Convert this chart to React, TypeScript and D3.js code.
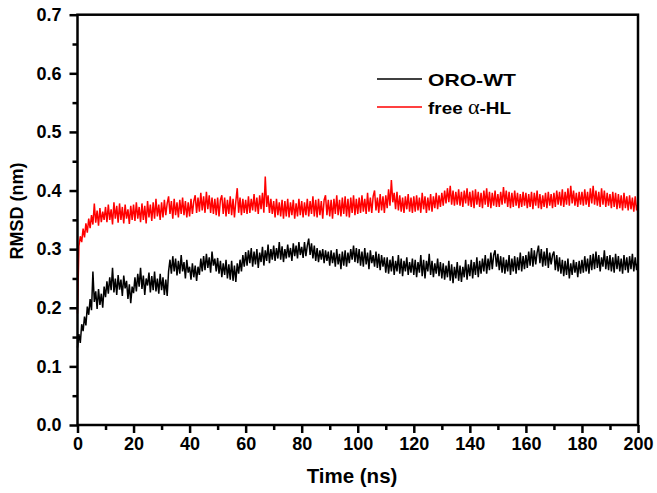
import * as d3 from "d3";
import React from "react";
import { useRef, useEffect } from "react";

// RMSD (nm) sampled every 0.5 ns from 0 to 200 ns
const step = 0.5;

const oroWT = [
  0.132, 0.155, 0.140, 0.172, 0.160, 0.185, 0.170, 0.202, 0.188, 0.215, 0.196, 0.262, 0.210, 0.228, 0.198, 0.232, 0.205, 0.224, 0.200, 0.236,
  0.218, 0.245, 0.224, 0.252, 0.230, 0.268, 0.226, 0.250, 0.222, 0.256, 0.231, 0.248, 0.220, 0.255, 0.233, 0.246, 0.215, 0.240, 0.208, 0.236,
  0.225, 0.252, 0.228, 0.258, 0.236, 0.268, 0.232, 0.255, 0.222, 0.250, 0.238, 0.260, 0.226, 0.254, 0.230, 0.262, 0.228, 0.250, 0.224, 0.258,
  0.230, 0.252, 0.222, 0.248, 0.220, 0.262, 0.282, 0.258, 0.288, 0.262, 0.284, 0.255, 0.280, 0.258, 0.290, 0.262, 0.278, 0.250, 0.282, 0.260,
  0.270, 0.248, 0.276, 0.252, 0.272, 0.246, 0.270, 0.256, 0.284, 0.262, 0.288, 0.264, 0.292, 0.268, 0.286, 0.260, 0.296, 0.272, 0.284, 0.262,
  0.285, 0.258, 0.280, 0.252, 0.276, 0.256, 0.282, 0.250, 0.274, 0.248, 0.280, 0.246, 0.272, 0.244, 0.276, 0.258, 0.282, 0.262, 0.290, 0.270,
  0.295, 0.272, 0.298, 0.276, 0.302, 0.270, 0.296, 0.274, 0.300, 0.268, 0.294, 0.278, 0.304, 0.272, 0.298, 0.280, 0.308, 0.276, 0.300, 0.282,
  0.306, 0.280, 0.302, 0.284, 0.312, 0.282, 0.305, 0.278, 0.300, 0.284, 0.308, 0.286, 0.302, 0.280, 0.310, 0.288, 0.306, 0.284, 0.312, 0.290,
  0.304, 0.285, 0.312, 0.288, 0.306, 0.318, 0.290, 0.310, 0.284, 0.306, 0.280, 0.302, 0.278, 0.298, 0.282, 0.300, 0.276, 0.298, 0.280, 0.296,
  0.272, 0.298, 0.276, 0.294, 0.270, 0.300, 0.274, 0.292, 0.266, 0.296, 0.272, 0.298, 0.270, 0.294, 0.276, 0.300, 0.282, 0.306, 0.278, 0.302,
  0.276, 0.300, 0.272, 0.296, 0.270, 0.302, 0.274, 0.294, 0.266, 0.298, 0.276, 0.290, 0.270, 0.296, 0.268, 0.292, 0.264, 0.290, 0.270, 0.286,
  0.260, 0.286, 0.258, 0.282, 0.262, 0.288, 0.256, 0.280, 0.262, 0.290, 0.258, 0.284, 0.254, 0.280, 0.262, 0.286, 0.256, 0.278, 0.260, 0.284,
  0.256, 0.282, 0.252, 0.278, 0.260, 0.290, 0.254, 0.282, 0.250, 0.280, 0.262, 0.292, 0.256, 0.280, 0.252, 0.276, 0.258, 0.284, 0.254, 0.278,
  0.250, 0.276, 0.248, 0.272, 0.252, 0.280, 0.246, 0.274, 0.242, 0.270, 0.250, 0.278, 0.246, 0.272, 0.244, 0.270, 0.252, 0.282, 0.248, 0.274,
  0.254, 0.282, 0.250, 0.278, 0.256, 0.286, 0.252, 0.280, 0.258, 0.284, 0.262, 0.290, 0.258, 0.284, 0.264, 0.294, 0.266, 0.290, 0.298, 0.270,
  0.292, 0.264, 0.288, 0.260, 0.286, 0.258, 0.282, 0.262, 0.290, 0.256, 0.284, 0.262, 0.288, 0.258, 0.286, 0.264, 0.294, 0.262, 0.288, 0.266,
  0.290, 0.268, 0.296, 0.272, 0.302, 0.270, 0.298, 0.274, 0.294, 0.306, 0.276, 0.300, 0.270, 0.296, 0.272, 0.302, 0.268, 0.294, 0.274, 0.290,
  0.296, 0.264, 0.290, 0.262, 0.286, 0.258, 0.282, 0.254, 0.280, 0.256, 0.284, 0.250, 0.276, 0.256, 0.282, 0.260, 0.278, 0.252, 0.280, 0.258,
  0.282, 0.260, 0.288, 0.262, 0.284, 0.258, 0.290, 0.264, 0.292, 0.266, 0.296, 0.268, 0.290, 0.262, 0.286, 0.270, 0.298, 0.266, 0.288, 0.264,
  0.290, 0.262, 0.286, 0.260, 0.292, 0.266, 0.288, 0.262, 0.284, 0.258, 0.290, 0.264, 0.286, 0.260, 0.288, 0.266, 0.292, 0.262, 0.286, 0.264,
  0.280,
];

const freeHL = [
  0.190, 0.305, 0.322, 0.312, 0.335, 0.320, 0.344, 0.328, 0.352, 0.336, 0.358, 0.342, 0.378, 0.345, 0.366, 0.340, 0.370, 0.346, 0.364, 0.350,
  0.372, 0.346, 0.376, 0.350, 0.368, 0.342, 0.380, 0.352, 0.374, 0.345, 0.378, 0.350, 0.372, 0.344, 0.376, 0.352, 0.368, 0.343, 0.374, 0.350,
  0.376, 0.348, 0.380, 0.352, 0.372, 0.346, 0.378, 0.350, 0.374, 0.344, 0.382, 0.354, 0.376, 0.348, 0.380, 0.352, 0.386, 0.356, 0.376, 0.350,
  0.380, 0.354, 0.384, 0.358, 0.378, 0.390, 0.360, 0.382, 0.352, 0.386, 0.358, 0.380, 0.354, 0.384, 0.360, 0.388, 0.358, 0.382, 0.354, 0.380,
  0.356, 0.386, 0.360, 0.382, 0.392, 0.362, 0.388, 0.364, 0.396, 0.366, 0.390, 0.362, 0.398, 0.368, 0.392, 0.362, 0.388, 0.360, 0.386, 0.358,
  0.388, 0.356, 0.384, 0.392, 0.360, 0.388, 0.356, 0.384, 0.360, 0.390, 0.358, 0.386, 0.354, 0.382, 0.404, 0.362, 0.388, 0.358, 0.386, 0.362,
  0.384, 0.360, 0.390, 0.362, 0.386, 0.366, 0.394, 0.364, 0.388, 0.360, 0.392, 0.368, 0.396, 0.362, 0.424, 0.372, 0.392, 0.362, 0.386, 0.360,
  0.382, 0.354, 0.386, 0.358, 0.380, 0.356, 0.384, 0.352, 0.382, 0.356, 0.386, 0.354, 0.380, 0.358, 0.384, 0.352, 0.378, 0.356, 0.386, 0.358,
  0.382, 0.354, 0.380, 0.358, 0.386, 0.356, 0.382, 0.360, 0.390, 0.356, 0.384, 0.354, 0.386, 0.358, 0.382, 0.352, 0.384, 0.392, 0.358, 0.384,
  0.356, 0.384, 0.352, 0.386, 0.360, 0.392, 0.358, 0.384, 0.356, 0.388, 0.360, 0.390, 0.356, 0.386, 0.354, 0.388, 0.362, 0.392, 0.358, 0.386,
  0.360, 0.388, 0.362, 0.392, 0.364, 0.386, 0.360, 0.396, 0.364, 0.388, 0.362, 0.390, 0.400, 0.366, 0.388, 0.362, 0.394, 0.366, 0.390, 0.362,
  0.392, 0.370, 0.402, 0.374, 0.418, 0.380, 0.396, 0.368, 0.398, 0.366, 0.392, 0.364, 0.388, 0.362, 0.390, 0.368, 0.394, 0.364, 0.388, 0.362,
  0.390, 0.364, 0.392, 0.366, 0.388, 0.362, 0.396, 0.368, 0.390, 0.362, 0.388, 0.366, 0.394, 0.364, 0.390, 0.370, 0.396, 0.368, 0.392, 0.372,
  0.396, 0.374, 0.400, 0.378, 0.404, 0.380, 0.408, 0.376, 0.400, 0.374, 0.398, 0.376, 0.402, 0.374, 0.398, 0.372, 0.400, 0.378, 0.404, 0.374,
  0.398, 0.372, 0.400, 0.370, 0.402, 0.376, 0.398, 0.372, 0.396, 0.370, 0.400, 0.376, 0.404, 0.372, 0.398, 0.370, 0.396, 0.374, 0.400, 0.372,
  0.394, 0.372, 0.398, 0.376, 0.406, 0.378, 0.400, 0.372, 0.398, 0.370, 0.396, 0.372, 0.400, 0.374, 0.396, 0.370, 0.394, 0.372, 0.398, 0.374,
  0.396, 0.370, 0.394, 0.372, 0.398, 0.368, 0.396, 0.374, 0.400, 0.370, 0.394, 0.368, 0.392, 0.372, 0.396, 0.370, 0.398, 0.374, 0.394, 0.370,
  0.396, 0.372, 0.400, 0.376, 0.398, 0.374, 0.402, 0.372, 0.398, 0.376, 0.404, 0.374, 0.408, 0.378, 0.400, 0.374, 0.396, 0.372, 0.398, 0.376,
  0.398, 0.374, 0.402, 0.376, 0.398, 0.372, 0.404, 0.378, 0.408, 0.376, 0.400, 0.374, 0.398, 0.372, 0.404, 0.376, 0.400, 0.372, 0.396, 0.374,
  0.394, 0.370, 0.398, 0.372, 0.396, 0.368, 0.394, 0.370, 0.392, 0.366, 0.396, 0.370, 0.390, 0.366, 0.392, 0.368, 0.388, 0.364, 0.390, 0.366,
  0.378,
];

const xTicks = [0, 20, 40, 60, 80, 100, 120, 140, 160, 180, 200];
const yTicks = [0.0, 0.1, 0.2, 0.3, 0.4, 0.5, 0.6, 0.7];

const series = [
  { name: "ORO-WT", values: oroWT, color: "#000000" },
  { name: "free ", greek: "\u03b1", tail: "-HL", values: freeHL, color: "#ff0000" },
];

const W = 657;
const H = 493;
const left = 77.5;
const right = 638;
const top = 14.7;
const bottom = 425;
const font = "Arial, 'Liberation Sans', sans-serif";

const App = () => {
  const svgRef = useRef(null);

  useEffect(() => {
    const svg = d3.select(svgRef.current);
    svg.selectAll("*").remove();

    const x = d3.scaleLinear().domain([0, 200]).range([left, right]);
    const y = d3.scaleLinear().domain([0, 0.7]).range([bottom, top]);

    // data lines
    const line = d3
      .line<number>()
      .x((_d, i) => x(i * step))
      .y((d) => y(d));

    series.forEach((s) => {
      svg
        .append("path")
        .attr("d", line(s.values))
        .attr("fill", "none")
        .attr("stroke", s.color)
        .attr("stroke-width", 1.5)
        .attr("stroke-linejoin", "miter");
    });

    // frame
    svg
      .append("rect")
      .attr("x", left)
      .attr("y", top)
      .attr("width", right - left)
      .attr("height", bottom - top)
      .attr("fill", "none")
      .attr("stroke", "#000")
      .attr("stroke-width", 2.5);

    // x axis
    const xAxis = d3
      .axisBottom(x)
      .tickValues(xTicks)
      .tickSize(8)
      .tickFormat((d) => String(d));
    const gx = svg.append("g").attr("transform", `translate(0,${bottom})`).call(xAxis);
    gx.select(".domain").remove();
    gx.selectAll("line").attr("stroke-width", 2.5);
    gx.selectAll("text")
      .attr("font-family", font)
      .attr("font-weight", "bold")
      .attr("font-size", 18)
      .attr("dy", 0)
      .attr("y", 25);

    const xMinor = d3
      .axisBottom(x)
      .tickValues(d3.range(10, 200, 20))
      .tickSize(5)
      .tickFormat(() => "");
    const gxm = svg.append("g").attr("transform", `translate(0,${bottom})`).call(xMinor);
    gxm.select(".domain").remove();
    gxm.selectAll("line").attr("stroke-width", 2.5);

    // y axis
    const yAxis = d3
      .axisLeft(y)
      .tickValues(yTicks)
      .tickSize(8)
      .tickFormat(d3.format(".1f"));
    const gy = svg.append("g").attr("transform", `translate(${left},0)`).call(yAxis);
    gy.select(".domain").remove();
    gy.selectAll("line").attr("stroke-width", 2.5);
    gy.selectAll("text")
      .attr("font-family", font)
      .attr("font-weight", "bold")
      .attr("font-size", 18)
      .attr("x", -16);

    const yMinor = d3
      .axisLeft(y)
      .tickValues(d3.range(0.05, 0.7, 0.1))
      .tickSize(5)
      .tickFormat(() => "");
    const gym = svg.append("g").attr("transform", `translate(${left},0)`).call(yMinor);
    gym.select(".domain").remove();
    gym.selectAll("line").attr("stroke-width", 2.5);

    // axis titles
    svg
      .append("text")
      .attr("x", 352)
      .attr("y", 483)
      .attr("text-anchor", "middle")
      .attr("font-family", font)
      .attr("font-weight", "bold")
      .attr("font-size", 20.5)
      .text("Time (ns)");

    svg
      .append("text")
      .attr("transform", `translate(23,211) rotate(-90)`)
      .attr("text-anchor", "middle")
      .attr("font-family", font)
      .attr("font-weight", "bold")
      .attr("font-size", 18)
      .text("RMSD (nm)");

    // legend
    const legend = svg.append("g");
    const legendWidths = [88, 83];
    series.forEach((s, i) => {
      const ly = 79 + i * 28;
      legend
        .append("line")
        .attr("x1", 377)
        .attr("x2", 422)
        .attr("y1", ly)
        .attr("y2", ly)
        .attr("stroke", s.color)
        .attr("stroke-width", 1.3);
      const t = legend
        .append("text")
        .attr("x", 428)
        .attr("y", ly + 7)
        .attr("font-family", font)
        .attr("font-weight", "bold")
        .attr("font-size", 17)
        .attr("textLength", legendWidths[i])
        .attr("lengthAdjust", "spacingAndGlyphs");
      t.append("tspan").text(s.name);
      if (s.greek) {
        t.append("tspan")
          .attr("font-family", "'Liberation Serif', 'DejaVu Serif', serif")
          .attr("font-weight", "normal")
          .attr("font-size", 20)
          .text(s.greek);
        t.append("tspan").text(s.tail);
      }
    });
  }, []);

  return (
    <svg
      ref={svgRef}
      width={W}
      height={H}
      style={{ position: "absolute", left: 0, top: 0, background: "#fff" }}
    ></svg>
  );
};

export default App;
